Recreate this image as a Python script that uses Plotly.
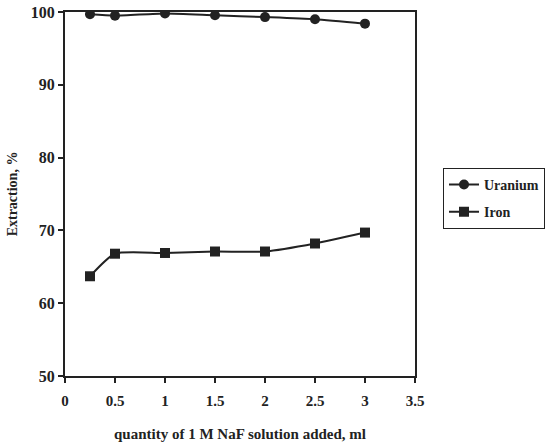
import plotly.graph_objects as go

naf_ml = [0.25, 0.5, 1, 1.5, 2, 2.5, 3]
uranium = [99.7, 99.5, 99.8, 99.55, 99.3, 99.0, 98.4]
iron = [63.7, 66.8, 66.9, 67.1, 67.1, 68.2, 69.7]

FONT = "Liberation Serif"
INK = "#222222"

fig = go.Figure()
fig.add_trace(go.Scatter(
    x=naf_ml, y=uranium, name="Uranium", mode="lines+markers", legendgroup="u",
    line=dict(color=INK, width=2, shape="spline", smoothing=0.6),
    marker=dict(symbol="circle", size=10, color=INK),
))
fig.add_trace(go.Scatter(
    x=naf_ml, y=iron, name="Iron", mode="lines+markers", legendgroup="i",
    line=dict(color=INK, width=2, shape="spline", smoothing=0.6),
    marker=dict(symbol="square", size=10, color=INK),
))

axis_common = dict(
    showline=True, linecolor=INK, linewidth=2, mirror=True,
    ticks="outside", ticklen=5, tickcolor=INK, tickwidth=1.5,
    showgrid=False, zeroline=False, automargin=False,
)

fig.update_layout(
    width=551, height=444,
    margin=dict(l=65, r=136, t=12, b=68),
    paper_bgcolor="white", plot_bgcolor="white",
    font=dict(family=FONT, color=INK, weight="bold"),
    xaxis=dict(range=[0, 3.5], dtick=0.5, tick0=0, ticklabelstandoff=5,
               tickfont=dict(family=FONT, size=15, color=INK, weight="bold"),
               title=dict(text="quantity of 1 M NaF solution added, ml",
                          font=dict(family=FONT, size=15, color=INK, weight="bold"),
                          standoff=20),
               **axis_common),
    yaxis=dict(range=[50, 100], dtick=10, tick0=50,
               tickfont=dict(family=FONT, size=16, color=INK, weight="bold"),
               title=dict(text="Extraction, %",
                          font=dict(family=FONT, size=14, color=INK, weight="bold"),
                          standoff=10),
               **axis_common),
    legend=dict(xref="container", yref="container", x=0.804, y=0.622,
                xanchor="left", yanchor="top",
                bordercolor=INK, borderwidth=1, bgcolor="white",
                font=dict(family=FONT, size=14, color=INK, weight="bold"),
                traceorder="grouped", tracegroupgap=6, itemwidth=30),
    showlegend=True,
)

fig.write_html(
    "out.html",
    config={"responsive": False, "displayModeBar": False},
    post_script="document.body.style.margin='0px';document.body.style.overflow='hidden';",
)
